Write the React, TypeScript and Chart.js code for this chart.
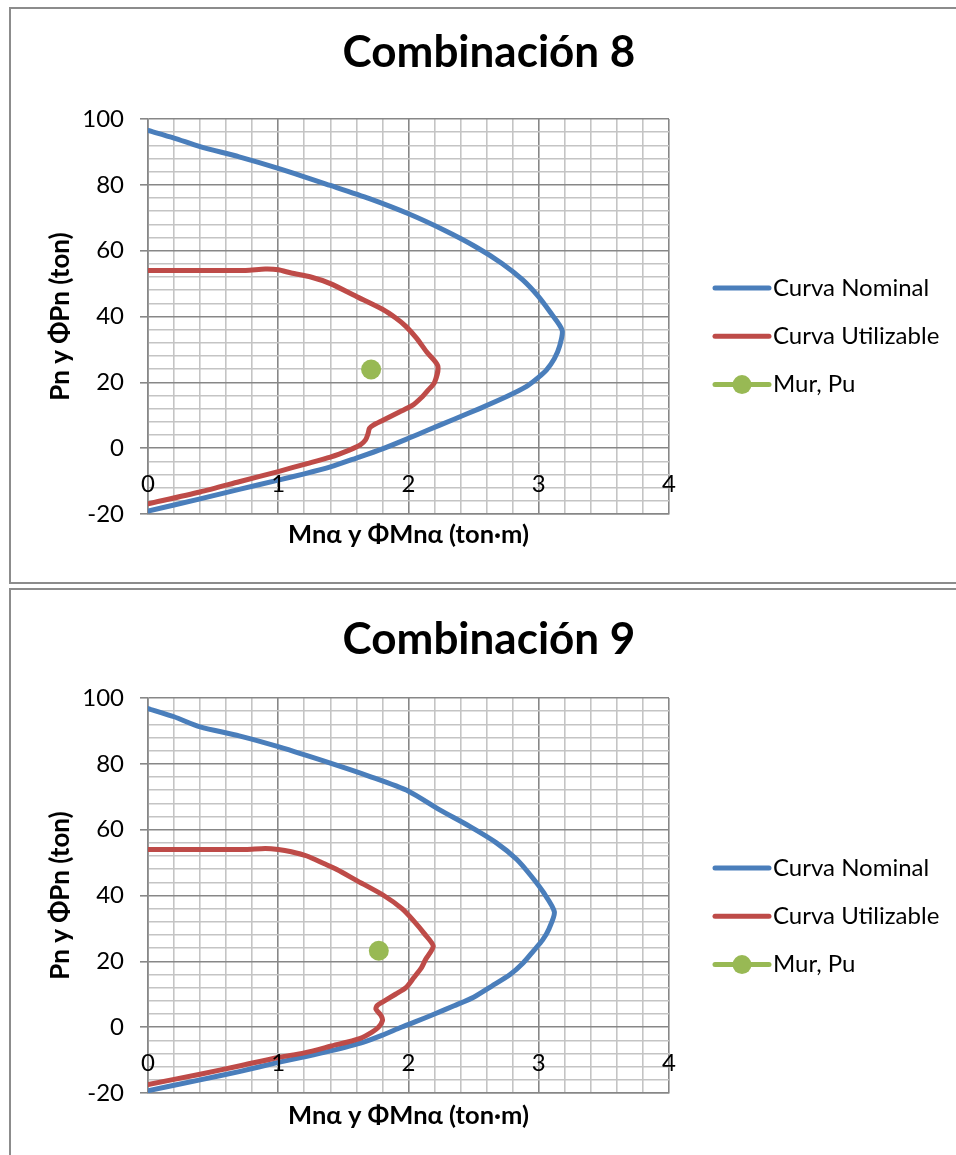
import React, { useEffect, useRef } from 'react';
import { Chart, registerables } from 'chart.js';

Chart.register(...registerables);

// ---------- data ----------
const SERIES_LABELS = ['Curva Nominal', 'Curva Utilizable', 'Mur, Pu'];
const CHART_TITLES = ['Combinación 8', 'Combinación 9'];
const X_AXIS_TITLE = 'Mnα y ΦMnα (ton·m)';
const Y_AXIS_TITLE = 'Pn y ΦPn (ton)';
const X_TICK_LABELS = [0, 1, 2, 3, 4];
const Y_TICK_LABELS = [-20, 0, 20, 40, 60, 80, 100];

// Combinación 8
const C8_NOMINAL_M = [0, 0.2, 0.4, 0.7, 1.0, 1.4, 1.7, 2.0, 2.275, 2.515, 2.715, 2.875, 2.995, 3.09, 3.18, 3.16, 3.12, 3.06, 3.0, 2.9, 2.75, 2.55, 2.35, 2.15, 2.0, 1.8, 1.6, 1.4, 1.2, 1.0, 0.7, 0.4, 0];
const C8_NOMINAL_P = [96.5, 94.2, 91.6, 88.5, 85.0, 79.8, 75.8, 71.2, 66.2, 61.2, 56.2, 51.2, 46.2, 41.2, 35.8, 31.0, 27.2, 23.8, 21.6, 18.6, 15.6, 12.1, 8.8, 5.5, 3.0, -0.2, -3.0, -5.7, -7.8, -9.7, -12.5, -15.4, -19.1];
const C8_UTIL_M = [0, 0.4, 0.75, 0.9, 1.0, 1.1, 1.25, 1.4, 1.6, 1.8, 1.9, 1.98, 2.06, 2.14, 2.225, 2.2, 2.15, 2.1, 2.03, 1.93, 1.8, 1.73, 1.7, 1.69, 1.67, 1.63, 1.55, 1.4, 1.2, 1.0, 0.7, 0.4, 0];
const C8_UTIL_P = [54, 54, 54, 54.4, 54.2, 53.2, 52, 50, 46.1, 42.2, 39.6, 37, 33.5, 29.2, 25, 20, 17.6, 15.4, 13, 11, 8.4, 7, 6, 4.5, 2.5, 1, -0.5, -2.7, -4.9, -7.1, -10.2, -13.3, -16.9];
const C8_MUR_M = [1.713];
const C8_MUR_P = [23.9];

// Combinación 9
const C9_NOMINAL_M = [0, 0.2, 0.4, 0.7, 1.0, 1.4, 1.7, 2.0, 2.24, 2.47, 2.675, 2.83, 2.94, 3.035, 3.12, 3.08, 3.03, 2.96, 2.88, 2.78, 2.64, 2.5, 2.35, 2.2, 2.05, 1.94, 1.8, 1.65, 1.4, 1.2, 1.0, 0.7, 0.4, 0];
const C9_NOMINAL_P = [96.8, 94.3, 91.2, 88.5, 85.2, 80.2, 76.2, 71.7, 66.0, 61.0, 56.0, 51.0, 46.0, 41.0, 35.0, 30.0, 26.5, 23.2, 19.5, 16.0, 12.5, 9.1, 6.5, 4.0, 1.6, -0.1, -2.4, -4.6, -7.2, -9.0, -10.7, -13.5, -16.0, -19.3];
const C9_UTIL_M = [0, 0.4, 0.75, 0.9, 1.0, 1.1, 1.22, 1.35, 1.45, 1.6, 1.81, 1.95, 2.04, 2.12, 2.19, 2.13, 2.1, 2.04, 1.98, 1.9, 1.8, 1.76, 1.75, 1.79, 1.8, 1.77, 1.72, 1.63, 1.4, 1.2, 1.0, 0.7, 0.4, 0];
const C9_UTIL_P = [54, 54, 54, 54.3, 54, 53.3, 52, 49.7, 47.9, 44.6, 40, 36, 32.3, 28.5, 24.6, 20.5, 18.1, 15, 12, 10, 7.6, 6.6, 5.5, 3.5, 2.0, 0, -1.5, -3.4, -5.8, -7.8, -9.2, -11.8, -14.3, -17.4];
const C9_MUR_M = [1.772];
const C9_MUR_P = [23.2];

// ---------- styles ----------
const FONT = "Lato, 'Open Sans', 'DejaVu Sans', sans-serif";
const MAJOR = '#878787';
const MINOR = '#c4c4c4';
const BLUE = '#4a7ebb';
const RED = '#be4b48';
const GREEN = '#98b954';
const LINE_W = 5;

const toPoints = (xs: number[], ys: number[]) => xs.map((x, i) => ({ x, y: ys[i] }));
const isMult = (v: number, step: number) => Math.abs(v / step - Math.round(v / step)) < 1e-6;

const decorPlugin = {
  id: 'decor',
  afterDraw(chart: any, _args: any, opts: any) {
    const { ctx } = chart;
    const xs = chart.scales.x;
    const ys = chart.scales.y;
    ctx.save();
    // chart title
    ctx.fillStyle = '#000';
    ctx.font = `bold 44px ${FONT}`;
    ctx.textAlign = 'center';
    ctx.textBaseline = 'alphabetic';
    ctx.fillText(opts.title, opts.titleX, opts.titleBaseline);
    // x tick labels next to the axis line at P = 0
    ctx.font = `24px ${FONT}`;
    ctx.textBaseline = 'middle';
    const y0 = ys.getPixelForValue(0);
    X_TICK_LABELS.forEach((v) => {
      ctx.fillText(String(v), xs.getPixelForValue(v), y0 + 36);
    });
    // legend
    const lx = opts.legendX;
    chart.data.datasets.forEach((ds: any, i: number) => {
      const cy = opts.legendY + i * 48.3;
      ctx.strokeStyle = ds.borderColor;
      ctx.lineWidth = LINE_W;
      ctx.lineCap = 'round';
      ctx.beginPath();
      ctx.moveTo(lx, cy);
      ctx.lineTo(lx + 54, cy);
      ctx.stroke();
      if (ds.pointRadius > 0) {
        ctx.fillStyle = ds.backgroundColor;
        ctx.beginPath();
        ctx.arc(lx + 27, cy, ds.pointRadius - 0.5, 0, Math.PI * 2);
        ctx.fill();
      }
      ctx.fillStyle = '#000';
      ctx.textAlign = 'left';
      ctx.fillText(ds.label, lx + 58, cy);
    });
    ctx.restore();
  },
};

type PanelProps = {
  title: string;
  nomM: number[]; nomP: number[];
  utilM: number[]; utilP: number[];
  murM: number[]; murP: number[];
  width: number; height: number;
  areaTop: number; areaBottom: number;
  titleBaseline: number; legendY: number; xTitleY: number;
};

function Panel(p: PanelProps) {
  const ref = useRef<HTMLCanvasElement | null>(null);
  useEffect(() => {
    if (!ref.current) return;
    const padLeft = 34;
    const yWidth = 103;
    const padRight = p.width - 658;
    const xHeight = p.xTitleY + 15.3 - p.areaBottom;
    const padBottom = p.height - p.areaBottom - xHeight;
    const lineDs = (label: string, color: string, pts: any[], order: number) => ({
      label,
      data: pts,
      showLine: true,
      borderColor: color,
      backgroundColor: color,
      borderWidth: LINE_W,
      pointRadius: 0,
      tension: 0.25,
      borderCapStyle: 'round',
      borderJoinStyle: 'round',
      order,
    });
    const chart = new Chart(ref.current, {
      type: 'scatter',
      data: {
        datasets: [
          lineDs(SERIES_LABELS[0], BLUE, toPoints(p.nomM, p.nomP), 3),
          lineDs(SERIES_LABELS[1], RED, toPoints(p.utilM, p.utilP), 2),
          {
            label: SERIES_LABELS[2],
            data: toPoints(p.murM, p.murP),
            showLine: false,
            borderColor: GREEN,
            backgroundColor: GREEN,
            pointRadius: 10,
            pointBorderWidth: 0,
            order: 1,
          },
        ],
      } as any,
      options: {
        animation: false,
        responsive: false,
        events: [],
        layout: { padding: { left: padLeft, right: padRight, top: p.areaTop, bottom: padBottom } },
        plugins: {
          legend: { display: false },
          title: { display: false },
          tooltip: { enabled: false },
          decor: {
            title: p.title,
            titleX: 478,
            titleBaseline: p.titleBaseline,
            legendX: 704,
            legendY: p.legendY,
          },
        } as any,
        scales: {
          x: {
            type: 'linear',
            min: 0,
            max: 4,
            afterFit: (s: any) => { s.height = xHeight; },
            ticks: { display: false, stepSize: 0.2 },
            grid: {
              drawTicks: false,
              color: (c: any) => (isMult(c.tick.value, 1) ? MAJOR : MINOR),
              lineWidth: 1.6,
            },
            border: { display: true, color: MAJOR, width: 1.6 },
            title: {
              display: true,
              text: X_AXIS_TITLE,
              color: '#000',
              font: { family: FONT, size: 25.5, weight: 'bold' },
              padding: 0,
            },
          },
          y: {
            type: 'linear',
            min: -20,
            max: 100,
            afterFit: (s: any) => { s.width = yWidth; },
            ticks: {
              stepSize: 4,
              autoSkip: false,
              padding: 16,
              color: '#000',
              font: { family: FONT, size: 24 },
              callback: (v: any) => (Y_TICK_LABELS.some((t) => Math.abs(t - v) < 1e-6) ? String(Math.round(v)) : ''),
            },
            grid: {
              drawTicks: true,
              tickLength: 8,
              color: (c: any) => (isMult(c.tick.value, 20) ? MAJOR : MINOR),
              tickColor: (c: any) => (isMult(c.tick.value, 20) ? MAJOR : 'rgba(0,0,0,0)'),
              lineWidth: 1.6,
            },
            border: { display: true, color: MAJOR, width: 1.6 },
            title: {
              display: true,
              text: Y_AXIS_TITLE,
              color: '#000',
              font: { family: FONT, size: 26, weight: 'bold' },
              padding: 0,
            },
          },
        },
      } as any,
      plugins: [decorPlugin as any],
    });
    return () => chart.destroy();
  }, []);
  return <canvas ref={ref} width={p.width} height={p.height} style={{ display: 'block' }} />;
}

export default function App() {
  const frameBase: React.CSSProperties = {
    position: 'absolute',
    left: 9,
    borderLeft: '2px solid #8c8c8c',
    borderTop: '2px solid #8c8c8c',
    background: '#fff',
    overflow: 'hidden',
  };
  return (
    <div style={{ position: 'fixed', left: 0, top: 0, width: 956, height: 1155, overflow: 'hidden', background: '#fff' }}>
      <div style={{ ...frameBase, top: 7, width: 945, height: 573, borderBottom: '2px solid #8c8c8c' }}>
        <Panel
          title={CHART_TITLES[0]}
          nomM={C8_NOMINAL_M} nomP={C8_NOMINAL_P}
          utilM={C8_UTIL_M} utilP={C8_UTIL_P}
          murM={C8_MUR_M} murP={C8_MUR_P}
          width={945} height={573}
          areaTop={110} areaBottom={505}
          titleBaseline={58} legendY={279} xTitleY={526}
        />
      </div>
      <div style={{ ...frameBase, top: 588, width: 945, height: 567 }}>
        <Panel
          title={CHART_TITLES[1]}
          nomM={C9_NOMINAL_M} nomP={C9_NOMINAL_P}
          utilM={C9_UTIL_M} utilP={C9_UTIL_P}
          murM={C9_MUR_M} murP={C9_MUR_P}
          width={945} height={565}
          areaTop={108} areaBottom={503}
          titleBaseline={64} legendY={278} xTitleY={526}
        />
      </div>
    </div>
  );
}
